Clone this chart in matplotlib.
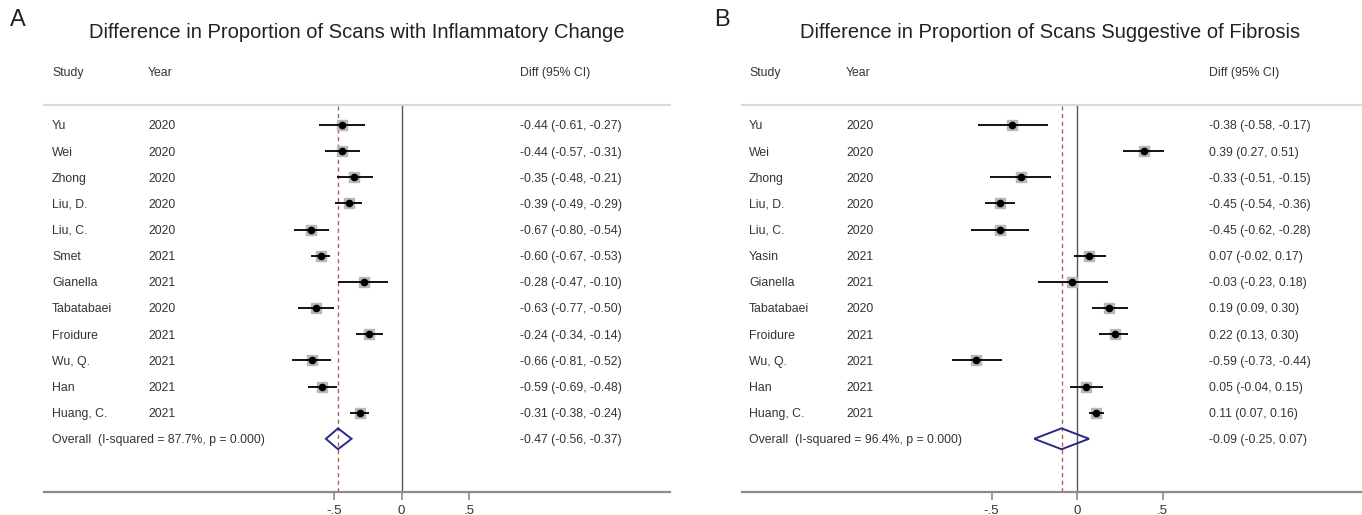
import matplotlib
matplotlib.use("Agg")
import matplotlib.pyplot as plt
from matplotlib.transforms import blended_transform_factory
from matplotlib.patches import Polygon

plt.rcParams['font.family'] = ['Liberation Sans', 'DejaVu Sans']

# ---- Panel A: inflammatory change ----
studies_a = ["Yu", "Wei", "Zhong", "Liu, D.", "Liu, C.", "Smet", "Gianella",
             "Tabatabaei", "Froidure", "Wu, Q.", "Han", "Huang, C."]
years_a = [2020, 2020, 2020, 2020, 2020, 2021, 2021, 2020, 2021, 2021, 2021, 2021]
diff_a = [-0.44, -0.44, -0.35, -0.39, -0.67, -0.60, -0.28, -0.63, -0.24, -0.66, -0.59, -0.31]
lo_a = [-0.61, -0.57, -0.48, -0.49, -0.80, -0.67, -0.47, -0.77, -0.34, -0.81, -0.69, -0.38]
hi_a = [-0.27, -0.31, -0.21, -0.29, -0.54, -0.53, -0.10, -0.50, -0.14, -0.52, -0.48, -0.24]
overall_a = (-0.47, -0.56, -0.37)
i2_a = "87.7%"

# ---- Panel B: fibrosis ----
studies_b = ["Yu", "Wei", "Zhong", "Liu, D.", "Liu, C.", "Yasin", "Gianella",
             "Tabatabaei", "Froidure", "Wu, Q.", "Han", "Huang, C."]
years_b = [2020, 2020, 2020, 2020, 2020, 2021, 2021, 2020, 2021, 2021, 2021, 2021]
diff_b = [-0.38, 0.39, -0.33, -0.45, -0.45, 0.07, -0.03, 0.19, 0.22, -0.59, 0.05, 0.11]
lo_b = [-0.58, 0.27, -0.51, -0.54, -0.62, -0.02, -0.23, 0.09, 0.13, -0.73, -0.04, 0.07]
hi_b = [-0.17, 0.51, -0.15, -0.36, -0.28, 0.17, 0.18, 0.30, 0.30, -0.44, 0.15, 0.16]
overall_b = (-0.09, -0.25, 0.07)
i2_b = "96.4%"

tick_vals = [-0.5, 0, 0.5]
tick_labels = ["-.5", "0", ".5"]

W, H = 1362, 515
fig = plt.figure(figsize=(W / 100, H / 100), dpi=100)

ROW0, ROWSTEP = 125.0, 26.15   # pixel row of first study, row spacing
TOP, BOTTOM = 105.0, 492.0
TXT = "#333333"
FS = 8.8
# shift from row centre to text baseline (half the cap height), in row units
BASE = (FS * 100 / 72 * 0.716 / 2) / ROWSTEP


def fmt(v):
    return f"{v:.2f}"


def panel(letter, title, studies, years, diff, lo, hi, overall, i2,
          left, right, zero_px, unit_px, study_x, year_x, diff_x, title_x, letter_x):
    ax = fig.add_axes([left / W, 1 - BOTTOM / H, (right - left) / W, (BOTTOM - TOP) / H])
    ax.set_xlim((left - zero_px) / unit_px, (right - zero_px) / unit_px)
    ax.set_ylim((BOTTOM - ROW0) / ROWSTEP, (TOP - ROW0) / ROWSTEP)
    ax.set_facecolor("none")
    for s in ("left", "right"):
        ax.spines[s].set_visible(False)
    ax.spines["top"].set_color("#d9d9d9")
    ax.spines["top"].set_linewidth(1.5)
    ax.spines["bottom"].set_color("#8c8c8c")
    ax.spines["bottom"].set_linewidth(1.6)
    ax.set_yticks([])
    ax.set_xticks(tick_vals)
    ax.set_xticklabels(tick_labels)
    ax.tick_params(axis="x", direction="out", length=6, width=1.2, color="#8c8c8c",
                   labelsize=9.5, labelcolor=TXT, pad=3)

    n = len(studies)
    rows = list(range(n))
    est, olo, ohi = overall

    ax.axvline(0, color="#555555", lw=1.0, zorder=1)
    ax.axvline(est, color="#b0605a", lw=1.0, ls=(0, (3, 2.5)), zorder=1)

    ax.hlines(rows, lo, hi, color="black", lw=1.3, zorder=3)
    ax.plot(diff, rows, ls="none", marker="s", ms=7, color="#b8b8b8", zorder=2)
    ax.plot(diff, rows, ls="none", marker="o", ms=4.5, color="black", zorder=4)

    r = n
    h = 0.4
    ax.add_patch(Polygon([(olo, r), (est, r - h), (ohi, r), (est, r + h)], closed=True,
                         fill=False, edgecolor="#2a2a86", lw=1.4, zorder=4))

    tr = blended_transform_factory(fig.transFigure, ax.transData)
    hdr_row = (72 - ROW0) / ROWSTEP
    kw = dict(transform=tr, fontsize=FS, color=TXT, va="baseline")
    ax.text(study_x / W, hdr_row + BASE, "Study", **kw)
    ax.text(year_x / W, hdr_row + BASE, "Year", **kw)
    ax.text(diff_x / W, hdr_row + BASE, "Diff (95% CI)", **kw)
    for i in rows:
        ax.text(study_x / W, i + BASE, studies[i], **kw)
        ax.text(year_x / W, i + BASE, str(years[i]), **kw)
        ax.text(diff_x / W, i + BASE, f"{fmt(diff[i])} ({fmt(lo[i])}, {fmt(hi[i])})", **kw)
    ax.text(study_x / W, r + BASE, f"Overall  (I-squared = {i2}, p = 0.000)", **kw)
    ax.text(diff_x / W, r + BASE, f"{fmt(est)} ({fmt(olo)}, {fmt(ohi)})", **kw)

    fig.text(title_x / W, 1 - 33 / H, title, fontsize=14.5, color="#222222",
             ha="center", va="center")
    fig.text(letter_x / W, 1 - 20 / H, letter, fontsize=17, color="#222222",
             ha="center", va="center")
    return ax


panel("A", "Difference in Proportion of Scans with Inflammatory Change",
      studies_a, years_a, diff_a, lo_a, hi_a, overall_a, i2_a,
      left=44, right=670, zero_px=401.5, unit_px=135.0,
      study_x=52, year_x=148, diff_x=520, title_x=357, letter_x=18)
panel("B", "Difference in Proportion of Scans Suggestive of Fibrosis",
      studies_b, years_b, diff_b, lo_b, hi_b, overall_b, i2_b,
      left=742, right=1362, zero_px=1077.0, unit_px=171.0,
      study_x=749, year_x=846, diff_x=1209, title_x=1050, letter_x=722)

fig.savefig("out.png", dpi=100, facecolor="white")
